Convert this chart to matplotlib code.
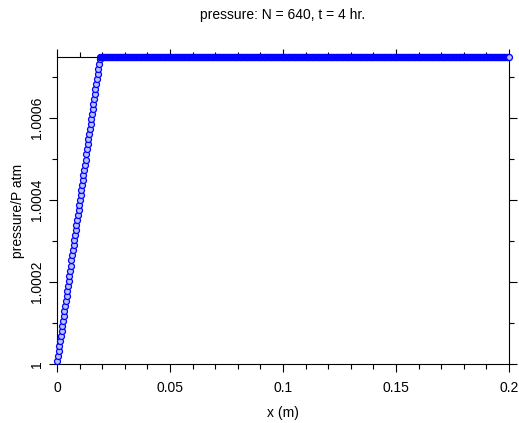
import numpy as np
import matplotlib
matplotlib.use('Agg')
import matplotlib.pyplot as plt
from matplotlib.ticker import MultipleLocator

plt.rcParams['font.family'] = ['Liberation Sans', 'DejaVu Sans']

# grid / profile
N = 640
x_len = 0.2            # domain length (m)
ramp_x = [0.0, 0.019, 0.2]            # breakpoints of the pressure profile
ramp_p = [1.0, 1.000748, 1.000748]    # pressure/P atm at the breakpoints

xticks = [0, 0.05, 0.1, 0.15, 0.2]
xticklabels = ['0', '0.05', '0.1', '0.15', '0.2']
yticks = [1.0, 1.0002, 1.0004, 1.0006]
yticklabels = ['1', '1.0002', '1.0004', '1.0006']

dx = x_len / N
x = (np.arange(N) + 0.5) * dx
p = np.interp(x, ramp_x, ramp_p)

fig = plt.figure(figsize=(5.19, 4.23), dpi=100)
ax = fig.add_axes([57/519, 1 - 364/423, (509 - 57)/519, (364 - 57)/423])

ax.plot(x, p, 'o', ms=4.3, mec='#0000ff', mfc='#b8c0ff', mew=0.9, clip_on=False, zorder=3)

ax.set_xlim(0, 0.2)
ax.set_ylim(1.0, ramp_p[-1])
ax.set_xticks(xticks)
ax.set_xticklabels(xticklabels)
ax.set_yticks(yticks)
ax.set_yticklabels(yticklabels, rotation=90, va='center')
ax.xaxis.set_minor_locator(MultipleLocator(0.01))
ax.yaxis.set_minor_locator(MultipleLocator(0.0001))
ax.tick_params(which='both', direction='out', top=True, right=True, labelsize=10, width=0.8)
ax.tick_params(which='major', length=6)
ax.tick_params(which='minor', length=3.5)
ax.tick_params(axis='x', pad=6)
ax.tick_params(axis='y', pad=3)

ax.set_xlabel('x (m)', fontsize=10, labelpad=8)
ax.set_ylabel('pressure/P atm', fontsize=10, labelpad=4)
ax.set_title('pressure: N = 640, t = 4 hr.', fontsize=10, pad=27)

fig.savefig('out.png', dpi=100)
